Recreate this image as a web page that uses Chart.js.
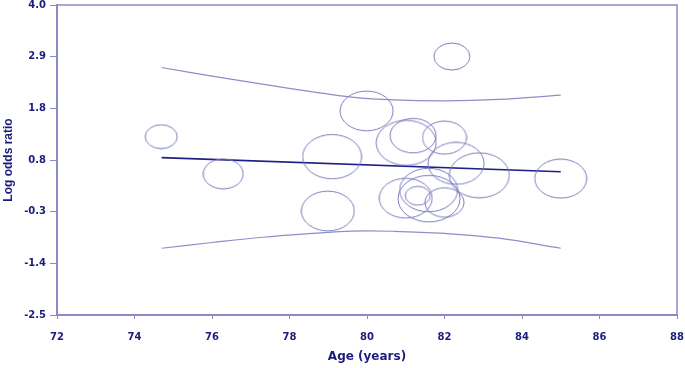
<!DOCTYPE html>
<html>
<head>
<meta charset="utf-8">
<script src="https://cdn.jsdelivr.net/npm/chart.js@4/dist/chart.umd.min.js"></script>
<style>
  html, body { margin: 0; padding: 0; background: #fff; }
  #wrap { width: 685px; height: 368px; }
</style>
</head>
<body>
<div id="wrap"><canvas id="metaChart"></canvas></div>
<script>
// studies: mean age, log odds ratio, bubble weight
const studyAge = [74.69, 76.29, 79.10, 78.99, 79.99, 82.19, 81.19, 81.01, 82.00, 82.30, 82.90, 85.00, 81.00, 81.31, 81.59, 81.60, 82.00];
const studyLogOr = [1.24, 0.46, 0.82, -0.32, 1.78, 2.92, 1.26, 1.11, 1.22, 0.68, 0.43, 0.36, -0.05, 0.00, 0.12, -0.06, -0.14];
const studyWeight = [16, 20, 29.5, 26.5, 26.5, 18, 23, 30, 22, 28, 30, 26, 26.5, 12.5, 29, 31, 19.5];

// meta-regression line
const fitAge = [74.7, 85.0];
const fitLogOr = [0.80, 0.505];

// confidence band
const bandAge = [74.7, 76.0, 77.3, 78.6, 79.6, 80.7, 82.0, 83.4, 85.0];
const bandUpper = [2.69, 2.51, 2.34, 2.18, 2.07, 2.01, 1.99, 2.02, 2.11];
const bandLower = [-1.10, -0.98, -0.87, -0.79, -0.74, -0.745, -0.79, -0.89, -1.10];

// y axis ticks
const yTickValues = [-2.5, -1.4167, -0.3333, 0.75, 1.8333, 2.9167, 4.0];
const yTickLabels = ["-2.5", "-1.4", "-0.3", "0.8", "1.8", "2.9", "4.0"];

const AXIS_COLOR = "#8a8ac6";
const TEXT_COLOR = "#1c1c7c";
const BUBBLE_COLOR = "#7c7cbe";

// bubbles in the original are stretched sideways, draw them as ellipses
const ellipseCache = {};
function ellipseStyle(r) {
  if (ellipseCache[r]) return ellipseCache[r];
  const ry = r * 0.75;
  const c = document.createElement("canvas");
  c.width = Math.ceil(r * 2 + 2);
  c.height = Math.ceil(ry * 2 + 2);
  const g = c.getContext("2d");
  g.strokeStyle = BUBBLE_COLOR;
  g.lineWidth = 1;
  g.beginPath();
  g.ellipse(c.width / 2, c.height / 2, r, ry, 0, 0, Math.PI * 2);
  g.stroke();
  ellipseCache[r] = c;
  return c;
}

const frameLines = {
  id: "frameLines",
  afterDatasetsDraw(chart) {
    const { ctx, chartArea: { left, top, right, bottom } } = chart;
    ctx.save();
    ctx.strokeStyle = AXIS_COLOR;
    ctx.lineWidth = 1.5;
    ctx.beginPath();
    ctx.moveTo(left, top);
    ctx.lineTo(right, top);
    ctx.lineTo(right, bottom);
    ctx.stroke();
    ctx.restore();
  },
};

const bubbles = studyAge.map((a, i) => ({ x: a, y: studyLogOr[i], r: studyWeight[i] }));
const fitLine = fitAge.map((a, i) => ({ x: a, y: fitLogOr[i] }));
const upperLine = bandAge.map((a, i) => ({ x: a, y: bandUpper[i] }));
const lowerLine = bandAge.map((a, i) => ({ x: a, y: bandLower[i] }));

const lineDefaults = {
  type: "line",
  pointRadius: 0,
  fill: false,
  tension: 0.4,
};

new Chart(document.getElementById("metaChart"), {
  type: "scatter",
  data: {
    datasets: [
      {
        // scatter instead of bubble so the big radii do not pad the layout
        data: bubbles,
        pointRadius: 2,
        borderWidth: 1,
        borderColor: BUBBLE_COLOR,
        backgroundColor: "rgba(0,0,0,0)",
        pointStyle: (ctx) => (ctx.raw ? ellipseStyle(ctx.raw.r) : "circle"),
      },
      { ...lineDefaults, data: upperLine, borderColor: "#8e8ec8", borderWidth: 1.2 },
      { ...lineDefaults, data: lowerLine, borderColor: "#8e8ec8", borderWidth: 1.2 },
      { ...lineDefaults, data: fitLine, borderColor: "#1f1f86", borderWidth: 1.6, tension: 0 },
    ],
  },
  options: {
    responsive: true,
    maintainAspectRatio: false,
    animation: false,
    events: [],
    layout: { padding: { left: 0, top: 5, right: 8, bottom: 0 } },
    plugins: { legend: { display: false }, tooltip: { enabled: false } },
    scales: {
      x: {
        type: "linear",
        min: 72,
        max: 88,
        ticks: {
          stepSize: 2,
          padding: 12,
          color: TEXT_COLOR,
          font: { family: "DejaVu Sans", size: 10, weight: "bold" },
        },
        grid: { drawOnChartArea: false, drawTicks: true, tickLength: 4, color: AXIS_COLOR },
        border: { display: true, color: AXIS_COLOR, width: 2 },
        title: {
          display: true,
          text: "Age (years)",
          color: TEXT_COLOR,
          padding: { top: 0, bottom: 4 },
          font: { family: "DejaVu Sans", size: 12, weight: "bold" },
        },
        afterFit: (scale) => {
          scale.height = 53;
          scale.paddingLeft = 0;
          scale.paddingRight = 0;
        },
      },
      y: {
        type: "linear",
        min: -2.5,
        max: 4.0,
        afterBuildTicks: (scale) => {
          scale.ticks = yTickValues.map((v) => ({ value: v }));
        },
        ticks: {
          padding: 4,
          color: TEXT_COLOR,
          font: { family: "DejaVu Sans", size: 10, weight: "bold" },
          callback: (value, index) => yTickLabels[index],
        },
        grid: { drawOnChartArea: false, drawTicks: true, tickLength: 7, color: AXIS_COLOR },
        border: { display: true, color: AXIS_COLOR, width: 2 },
        title: {
          display: true,
          text: "Log odds ratio",
          color: TEXT_COLOR,
          padding: { top: 1, bottom: 0 },
          font: { family: "Liberation Sans", size: 12, weight: "bold" },
        },
        afterFit: (scale) => {
          scale.width = 57;
          scale.paddingTop = 0;
          scale.paddingBottom = 0;
        },
      },
    },
  },
  plugins: [frameLines],
});
</script>
</body>
</html>
